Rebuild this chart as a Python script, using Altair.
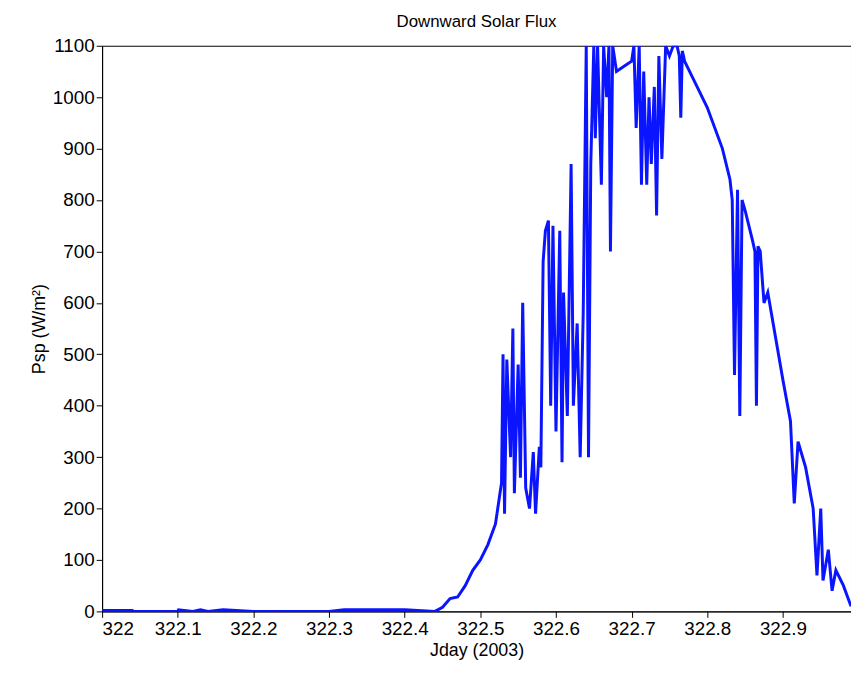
import altair as alt
import pandas as pd

jday = [322.0, 322.04, 322.041, 322.1, 322.101, 322.12, 322.13, 322.14, 322.16, 322.2, 322.3, 322.32, 322.4, 322.44,
        322.45, 322.46, 322.47, 322.48, 322.49, 322.5, 322.51, 322.52, 322.525, 322.528,
        322.53, 322.532, 322.535, 322.54, 322.543, 322.545, 322.55, 322.553, 322.556, 322.56, 322.565,
        322.57, 322.573, 322.578, 322.58, 322.583, 322.586, 322.59, 322.593, 322.596, 322.6, 322.605,
        322.608, 322.61, 322.615, 322.62, 322.623, 322.628, 322.632, 322.636, 322.64, 322.643, 322.646,
        322.65, 322.652, 322.655, 322.66, 322.663, 322.667, 322.67, 322.672, 322.675, 322.68, 322.69,
        322.7, 322.703, 322.706, 322.71, 322.713, 322.716, 322.72, 322.723, 322.726, 322.73, 322.733,
        322.736, 322.74, 322.745, 322.75, 322.755, 322.76, 322.763, 322.765, 322.767, 322.77, 322.78,
        322.8, 322.82, 322.83, 322.833, 322.836, 322.84, 322.843, 322.846, 322.85, 322.86, 322.863, 322.865,
        322.867, 322.87, 322.875, 322.88, 322.9, 322.91, 322.915, 322.92, 322.93, 322.94, 322.945, 322.95,
        322.953, 322.96, 322.965, 322.97, 322.98, 322.99]
psp = [2, 2, 0, 0, 3, 0, 3, 0, 3, 0, 0, 3, 3, 0,
       8, 25, 28, 50, 80, 100, 130, 170, 220, 250,
       500, 190, 490, 300, 550, 230, 480, 260, 600, 240, 200,
       310, 190, 320, 280, 680, 740, 760, 400, 750, 350, 740,
       290, 620, 380, 870, 400, 560, 300, 580, 1100, 300, 870,
       1100, 920, 1100, 830, 1100, 1000, 1100, 700, 1100, 1050, 1060,
       1070, 1100, 940, 1100, 830, 1050, 830, 1000, 870, 1020, 770,
       1080, 880, 1100, 1080, 1100, 1100, 1080, 960, 1090, 1070, 1040,
       980, 900, 840, 800, 460, 820, 380, 800, 780, 720, 700, 400,
       710, 700, 600, 620, 450, 370, 210, 330, 280, 200, 70, 200,
       60, 120, 40, 80, 50, 10]

df = pd.DataFrame({"jday": jday, "psp": psp})

font = "Liberation Sans"

chart = alt.Chart(df).mark_line(color="#0a14ff", strokeWidth=3, clip=True).encode(
    x=alt.X("jday:Q", scale=alt.Scale(domain=[322, 322.99], nice=False, zero=False),
            axis=alt.Axis(values=[322 + i / 10 for i in range(10)], format="~g",
                          title="Jday (2003)", grid=False)),
    y=alt.Y("psp:Q", scale=alt.Scale(domain=[0, 1100], nice=False),
            axis=alt.Axis(values=list(range(0, 1101, 100)), format="d",
                          title="Psp (W/m²)", grid=False)),
).properties(
    width=756, height=571,
    title="Downward Solar Flux",
    autosize=alt.AutoSizeParams(type="none"),
    padding={"left": 95, "top": 35, "right": 0, "bottom": 53},
).configure_view(
    stroke="black", strokeWidth=1
).configure_axis(
    labelFont=font, titleFont=font, labelFontSize=19, titleFontSize=18,
    labelColor="black", titleColor="black", titleFontWeight="normal",
    domainColor="black", tickColor="black", tickSize=6, labelPadding=2, titlePadding=4,
).configure_title(
    font=font, fontSize=17, fontWeight="normal", color="black", offset=6,
)

chart.save("out.html", embed_options={"renderer": "svg", "actions": False})
